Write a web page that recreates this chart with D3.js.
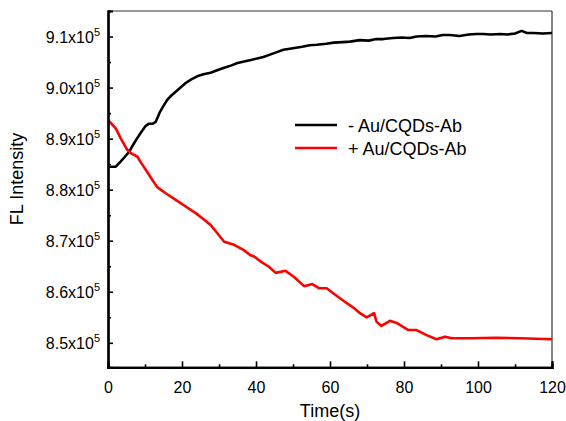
<!DOCTYPE html>
<html><head><meta charset="utf-8">
<script src="https://cdn.jsdelivr.net/npm/d3@7"></script>
<style>body{margin:0;background:#fff}svg{display:block}text{font-family:"Liberation Sans",Arial,sans-serif;fill:#000}</style>
</head><body><svg id="c" width="566" height="421"></svg>
<script>
// Time (s)
const blackTime = [0,0.5,2.1,3.4,4.5,5.7,6.8,7.9,9,10.2,11,12,12.9,14.1,15,16,17.2,18.3,19.6,21,22.5,24.1,25.8,27.7,29.5,31.4,33.2,35,36.8,38.6,40.3,42,44.7,47.4,50,52.5,54.5,56.4,59,61,63.5,65.4,68,70.5,72.5,74.4,77,79.5,81.5,83.4,86,88.5,90.5,92.4,95,97.5,99.5,101.4,103.5,106,108,110,111.8,113.2,115,117.5,120];
// FL Intensity (x10^5)
const blackValue = [8.845,8.845,8.845,8.855,8.864,8.874,8.888,8.901,8.913,8.925,8.929,8.929,8.933,8.953,8.964,8.976,8.985,8.992,9.000,9.009,9.016,9.022,9.026,9.029,9.034,9.039,9.043,9.048,9.051,9.054,9.057,9.060,9.067,9.074,9.077,9.080,9.083,9.084,9.086,9.088,9.089,9.090,9.093,9.092,9.095,9.095,9.097,9.098,9.097,9.100,9.101,9.100,9.103,9.103,9.101,9.104,9.105,9.105,9.104,9.105,9.104,9.106,9.111,9.107,9.107,9.106,9.107];

const redTime = [0,0.5,2.1,3.4,5.2,6.5,7.9,9,10.2,12,13.3,15.6,18.3,21,23.7,26,27.7,29.5,31.4,34.1,36.6,38.4,39.5,41.3,43.5,45.3,48,50.3,53,55.2,57,59.1,61.4,64.1,66.3,68.1,69.9,71.9,72.6,73.9,76.2,78,81.2,83.4,86.1,88.8,91.1,92.9,97.8,105,111.4,120];
const redValue = [8.935,8.933,8.920,8.901,8.878,8.870,8.865,8.852,8.839,8.819,8.805,8.793,8.780,8.767,8.754,8.741,8.731,8.715,8.698,8.692,8.682,8.672,8.669,8.659,8.649,8.637,8.641,8.629,8.611,8.615,8.607,8.607,8.594,8.580,8.569,8.558,8.550,8.558,8.541,8.533,8.543,8.539,8.525,8.525,8.515,8.507,8.512,8.509,8.509,8.510,8.509,8.507];

const xTicks = [0,20,40,60,80,100,120];
const xMinor = [10,30,50,70,90,110];
const yTicks = [8.5,8.6,8.7,8.8,8.9,9.0,9.1];
const yMinor = [8.55,8.65,8.75,8.85,8.95,9.05];
const seriesNames = ["- Au/CQDs-Ab","+ Au/CQDs-Ab"];
const seriesColors = ["#000000","#ff0000"];

const svg = d3.select("#c");
const L=108, R=552, T=11, B=367.3;
const x = d3.scaleLinear().domain([0,120]).range([L,R]);
const y = d3.scaleLinear().domain([8.452,9.15]).range([B,T]);

// frame top/right
svg.append("line").attr("x1",L).attr("x2",R).attr("y1",T).attr("y2",T).attr("stroke","#333").attr("stroke-width",1.2);
svg.append("line").attr("x1",R).attr("x2",R).attr("y1",T).attr("y2",B).attr("stroke","#333").attr("stroke-width",1.2);

// curves
const line = d3.line().x(d=>x(d[0])).y(d=>y(d[1]));
const series = [d3.zip(blackTime,blackValue), d3.zip(redTime,redValue)];
series.forEach((s,i)=>{
  svg.append("path").datum(s).attr("d",line).attr("fill","none")
    .attr("stroke",seriesColors[i]).attr("stroke-width",2.6).attr("stroke-linejoin","round");
});

// axes
const gx = svg.append("g").attr("transform",`translate(0,${B})`);
gx.call(d3.axisBottom(x).tickValues(xTicks).tickSize(-6).tickPadding(14).tickFormat(d3.format("d")));
const gxm = svg.append("g").attr("transform",`translate(0,${B})`);
gxm.call(d3.axisBottom(x).tickValues(xMinor).tickSize(-3).tickFormat(""));
const gy = svg.append("g").attr("transform",`translate(${L},0)`);
gy.call(d3.axisLeft(y).tickValues(yTicks).tickSize(-5).tickFormat(""));
const gym = svg.append("g").attr("transform",`translate(${L},0)`);
gym.call(d3.axisLeft(y).tickValues(yMinor).tickSize(-3).tickFormat(""));
[gx,gxm,gy,gym].forEach(g=>{
  g.select(".domain").attr("stroke","#000").attr("stroke-width",2.2);
  g.selectAll(".tick line").attr("stroke","#000").attr("stroke-width",1.6);
});
gx.selectAll(".tick text").attr("font-size",16).attr("font-family","Liberation Sans, Arial, sans-serif").attr("dy","0.71em");

// y tick labels with superscript
yTicks.forEach(v=>{
  const t = svg.append("text").attr("x",100).attr("y",y(v)+6).attr("text-anchor","end").attr("font-size",16);
  t.append("tspan").text(d3.format(".1f")(v)+"x10");
  t.append("tspan").attr("font-size",11).attr("dy",-7).text("5");
});

// axis titles
svg.append("text").attr("x",330).attr("y",417).attr("text-anchor","middle").attr("font-size",18).text("Time(s)");
svg.append("text").attr("transform","translate(23,179) rotate(-90)").attr("text-anchor","middle").attr("font-size",18).text("FL Intensity");

// legend
seriesNames.forEach((n,i)=>{
  const yy = 125 + i*23;
  svg.append("line").attr("x1",295).attr("x2",337).attr("y1",yy).attr("y2",yy).attr("stroke",seriesColors[i]).attr("stroke-width",2.6);
  svg.append("text").attr("x",348).attr("y",yy+6.5).attr("font-size",18).text(n);
});
</script></body></html>
